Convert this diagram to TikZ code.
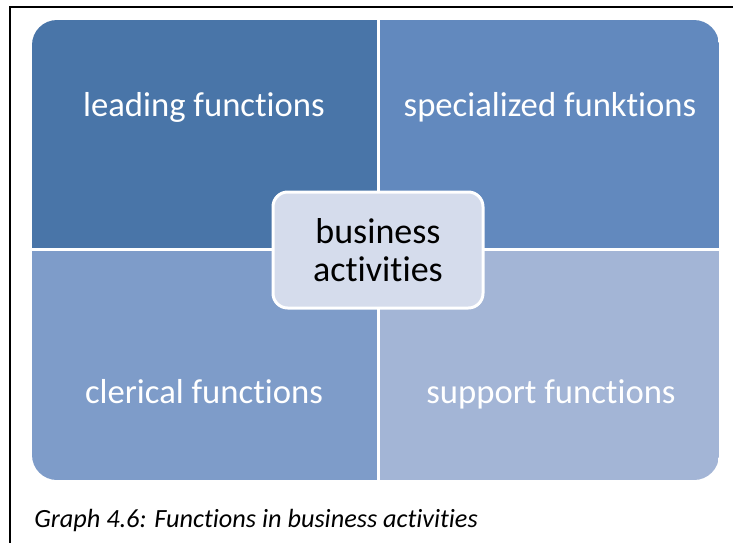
\documentclass[tikz,border=0pt]{standalone}
\usepackage{fontspec}
\setmainfont{Carlito}[Ligatures=NoCommon]
\usetikzlibrary{positioning}
\definecolor{leadblue}{RGB}{73,117,168}
\definecolor{specblue}{RGB}{98,137,190}
\definecolor{clerblue}{RGB}{126,156,201}
\definecolor{suppblue}{RGB}{163,181,214}
\definecolor{hubfill}{RGB}{213,220,236}
\tikzset{
  quadlabel/.style={text=white, anchor=base, font=\fontsize{26}{30}\selectfont},
  hubbox/.style={draw=white, line width=2.25pt, fill=hubfill, rounded corners=11pt,
    minimum width=157.5pt, minimum height=87pt, align=center,
    font=\fontsize{27}{28.5}\selectfont},
  captiontext/.style={font=\fontsize{19.7}{22}\selectfont\itshape, anchor=base west, inner sep=0pt}
}

\begin{document}
\begin{tikzpicture}[x=0.75pt,y=-0.75pt]
	\useasboundingbox (0,0) rectangle (733,543);
	\fill[white] (0,0) rectangle (733,543);
	\draw[line width=1.5pt] (10,550) |- (740,7);
	% four quadrants inside one rounded frame
	\begin{scope}
		\clip[rounded corners=18.75pt] (32,20) rectangle (719,480);
		\fill[leadblue] (32,20) rectangle (378,249);
		\fill[specblue] (378,20) rectangle (719,249);
		\fill[clerblue] (32,249) rectangle (378,480);
		\fill[suppblue] (378,249) rectangle (719,480);
	\end{scope}
	\draw[white,line width=2.25pt] (378,20) -- (378,480);
	\draw[white,line width=2.25pt] (32,249) -- (719,249);
	\node[quadlabel] (leading) at (204,116) {leading functions};
	\node[quadlabel] (special) at (550,116) {specialized funktions};
	\node[quadlabel] (clerical) at (204,403) {clerical functions};
	\node[quadlabel] (support) at (551,403) {support functions};
	\node[hubbox] (hub) at (378,250) {business\\activities};
	\node[captiontext] (caption) at (34,527) {Graph 4.6: Functions in business activities};
\end{tikzpicture}
\end{document}
